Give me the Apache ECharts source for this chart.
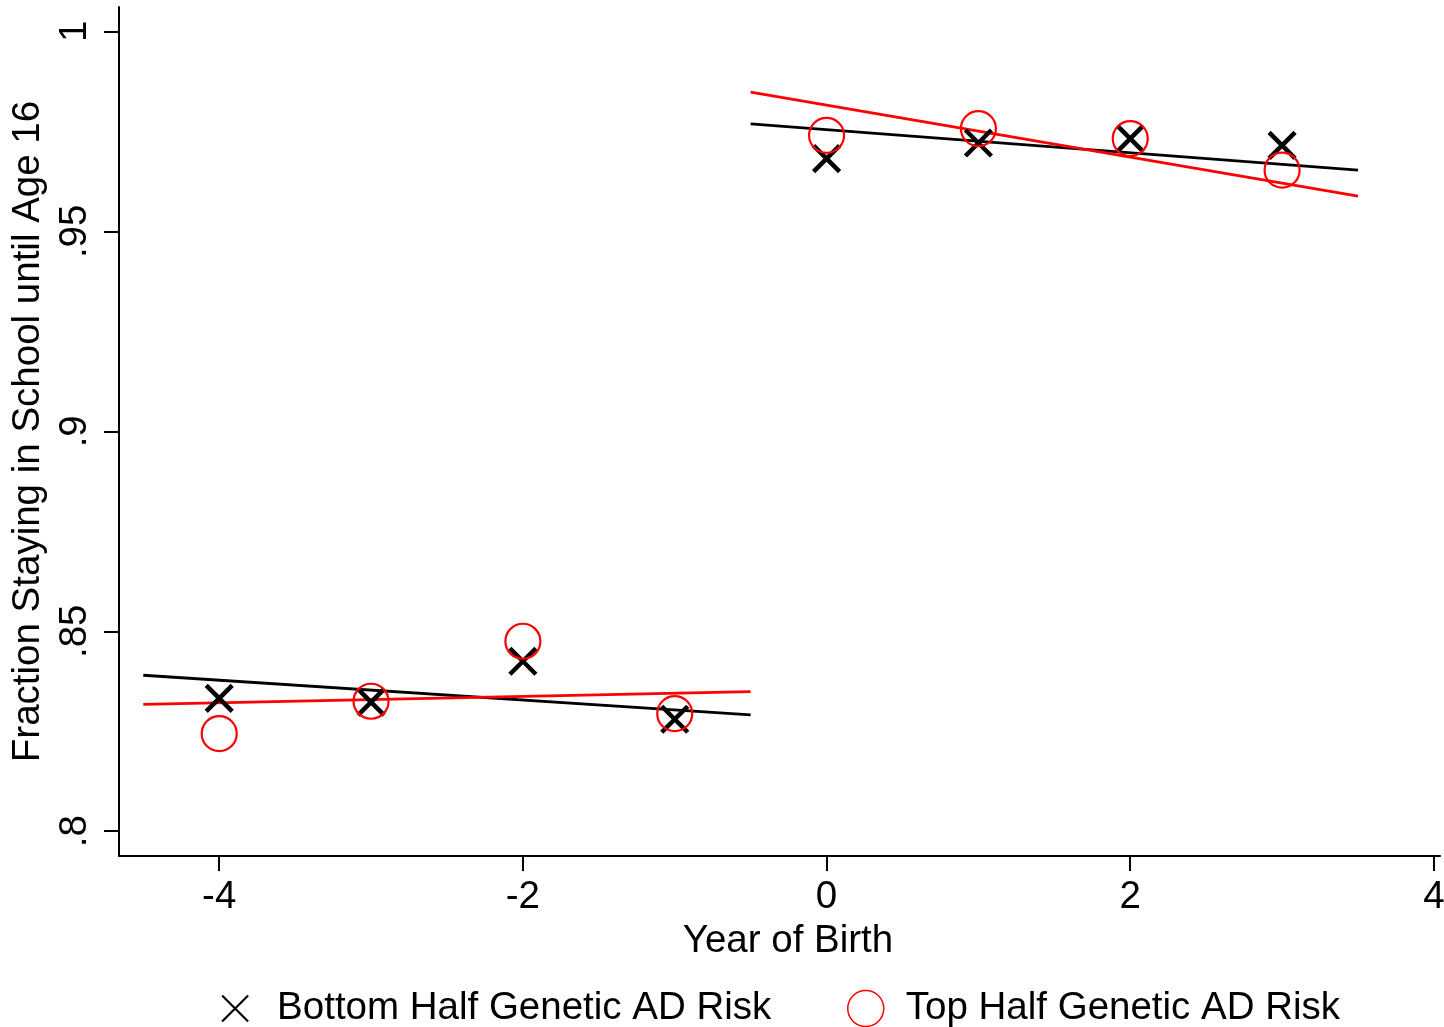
<!DOCTYPE html>
<html>
<head>
<meta charset="utf-8">
<script src="https://cdn.jsdelivr.net/npm/echarts@6/dist/echarts.min.js"></script>
<style>
  html, body { margin: 0; padding: 0; background: #fff; }
  #chart { width: 1444px; height: 1027px; }
</style>
</head>
<body>
<div id="chart"></div>
<script>
// Birth cohorts relative to the 1957 reform (year of birth)
const years = [-4, -3, -2, -1, 0, 1, 2, 3];

// Fraction staying in school until age 16, by genetic AD risk group
const bottomHalf = [0.8332, 0.8323, 0.8425, 0.8280, 0.9682, 0.9721, 0.9732, 0.9715];
const topHalf    = [0.8244, 0.8325, 0.8475, 0.8294, 0.9740, 0.9757, 0.9732, 0.9653];

// Linear fits on each side of the cutoff: [x, y] end points
const fitBottomBefore = [[-4.5, 0.8390], [-0.5, 0.8291]];
const fitBottomAfter  = [[-0.5, 0.9769], [3.5, 0.9653]];
const fitTopBefore    = [[-4.5, 0.8317], [-0.5, 0.8349]];
const fitTopAfter     = [[-0.5, 0.9848], [3.5, 0.9588]];

// Tick values and labels
const xTickValues = [-4, -2, 0, 2, 4];
const yTickValues = [0.8, 0.85, 0.9, 0.95, 1];
const yTickLabels = ['.8', '.85', '.9', '.95', '1'];

const seriesNames = ['Bottom Half Genetic AD Risk', 'Top Half Genetic AD Risk'];

const FONT = '"Liberation Sans", Arial, Helvetica, sans-serif';
const FS = 38.5;
const CROSS = 'path://M0,0L20,20M20,0L0,20';

const chart = echarts.init(document.getElementById('chart'), null, { renderer: 'canvas' });

const pair = (xs, ys) => xs.map((x, i) => [x, ys[i]]);

const fitLine = (data, color) => ({
  type: 'line',
  data: data,
  symbol: 'none',
  silent: true,
  lineStyle: { color: color, width: 2.8, opacity: 1 },
  z: 3
});

const legendText = (padLeft) => ({
  fontFamily: FONT, fontSize: FS, color: '#000', padding: [0, 0, 0, padLeft]
});

chart.setOption({
  animation: false,
  backgroundColor: '#ffffff',
  textStyle: { fontFamily: FONT, color: '#000' },
  grid: {
    left: 119, right: 4, top: 7, bottom: 171,
    containLabel: false,
    outerBoundsMode: 'none'
  },
  legend: [
    {
      left: 216,
      top: 984,
      itemWidth: 26,
      itemHeight: 26,
      selectedMode: false,
      textStyle: legendText(24),
      data: [{
        name: seriesNames[0],
        icon: CROSS,
        itemStyle: { color: 'transparent', borderColor: '#000', borderWidth: 2.2, opacity: 1 }
      }]
    },
    {
      left: 842,
      top: 984,
      itemWidth: 36,
      itemHeight: 36,
      selectedMode: false,
      textStyle: legendText(17),
      data: [{
        name: seriesNames[1],
        icon: 'circle',
        itemStyle: { color: 'transparent', borderColor: '#ff0000', borderWidth: 1.5, opacity: 1 }
      }]
    }
  ],
  xAxis: {
    type: 'value',
    min: -4.66,
    max: 4.04,
    name: 'Year of Birth',
    nameLocation: 'middle',
    nameGap: 66,
    nameTextStyle: { fontFamily: FONT, fontSize: FS, color: '#000', padding: [0, 0, 0, 17] },
    splitLine: { show: false },
    axisLine: { show: true, onZero: false, lineStyle: { color: '#000', width: 2 } },
    axisTick: {
      show: true, length: 15, inside: false,
      customValues: xTickValues,
      lineStyle: { color: '#000', width: 2 }
    },
    axisLabel: {
      customValues: xTickValues,
      fontFamily: FONT, fontSize: FS, color: '#000', margin: 22,
      formatter: v => String(v)
    }
  },
  yAxis: {
    type: 'value',
    min: 0.7938,
    max: 1.0061,
    name: 'Fraction Staying in School until Age 16',
    nameLocation: 'middle',
    nameGap: 68,
    nameRotate: 90,
    nameTextStyle: { fontFamily: FONT, fontSize: FS, color: '#000' },
    splitLine: { show: false },
    axisLine: { show: true, onZero: false, lineStyle: { color: '#000', width: 2 } },
    axisTick: {
      show: true, length: 15, inside: false,
      customValues: yTickValues,
      lineStyle: { color: '#000', width: 2 }
    },
    axisLabel: {
      customValues: yTickValues,
      rotate: 90,
      fontFamily: FONT, fontSize: FS, color: '#000', margin: 24,
      formatter: v => {
        const i = yTickValues.findIndex(t => Math.abs(t - v) < 1e-9);
        return i >= 0 ? yTickLabels[i] : '';
      }
    }
  },
  series: [
    {
      name: seriesNames[0],
      type: 'scatter',
      data: pair(years, bottomHalf),
      symbol: CROSS,
      symbolSize: 26,
      itemStyle: { color: 'transparent', borderColor: '#000', borderWidth: 4.5, opacity: 1 },
      emphasis: { disabled: true },
      z: 4
    },
    {
      name: seriesNames[1],
      type: 'scatter',
      data: pair(years, topHalf),
      symbol: 'circle',
      symbolSize: 35,
      itemStyle: { color: 'transparent', borderColor: '#ff0000', borderWidth: 2.2, opacity: 1 },
      emphasis: { disabled: true },
      z: 5
    },
    fitLine(fitBottomBefore, '#000'),
    fitLine(fitBottomAfter, '#000'),
    fitLine(fitTopBefore, '#ff0000'),
    fitLine(fitTopAfter, '#ff0000')
  ]
});
</script>
</body>
</html>
